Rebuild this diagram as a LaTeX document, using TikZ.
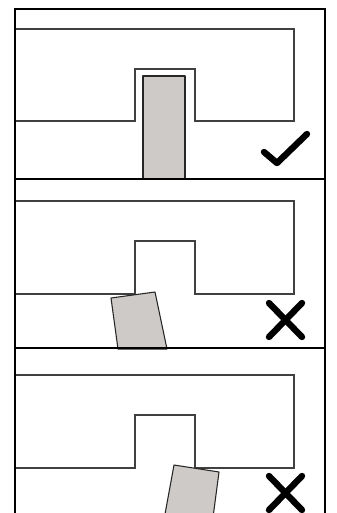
\documentclass[tikz,border=0pt]{standalone}
\usepackage{tikz}
\usepackage{xcolor}
\definecolor{partgray}{RGB}{206,202,199}
\tikzset{
  panel/.style={draw=black,line width=1pt},
  slot/.style={draw=black!75,line width=0.8pt},
  part/.style={draw=black!85,fill=partgray,line width=0.8pt,line join=round},
  verdict/.style={draw=black,line width=4.8pt,line cap=round,line join=round}
}

\begin{document}
\begin{tikzpicture}[x=0.75pt,y=-0.75pt]
\clip (0,0) rectangle (336,513);
\fill[white] (0,0) rectangle (336,513);
% good fit
\draw[slot] (15,29) -| (294,121) -- (195,121) |- (135,69) |- (15,121);
\draw[part] (143,76) rectangle (185,179);
\draw[panel] (15,9) rectangle (325,179);
\draw[verdict] (264,152) -- (277,163) -- (307,134);
% tilted left
\draw[slot] (15,201) -| (294,294) -- (195,294) |- (135,241) |- (15,294);
\draw[part] (111,298) -- (155,292) -- (167,349) -- (118,349) -- cycle;
\draw[panel] (15,179) rectangle (325,348);
\draw[verdict] (269,303) -- (302,337);\draw[verdict] (302,303) -- (269,337);
% tilted right
\draw[slot] (15,375) -| (294,468) -- (195,468) |- (135,415) |- (15,468);
\draw[part] (174,465) -- (219,472) -- (212,525) -- (163,525) -- cycle;
\draw[panel] (15,525) |- (325,348) -- (325,525);
\draw[verdict] (269,476) -- (302,510);\draw[verdict] (302,476) -- (269,510);
\end{tikzpicture}
\end{document}
